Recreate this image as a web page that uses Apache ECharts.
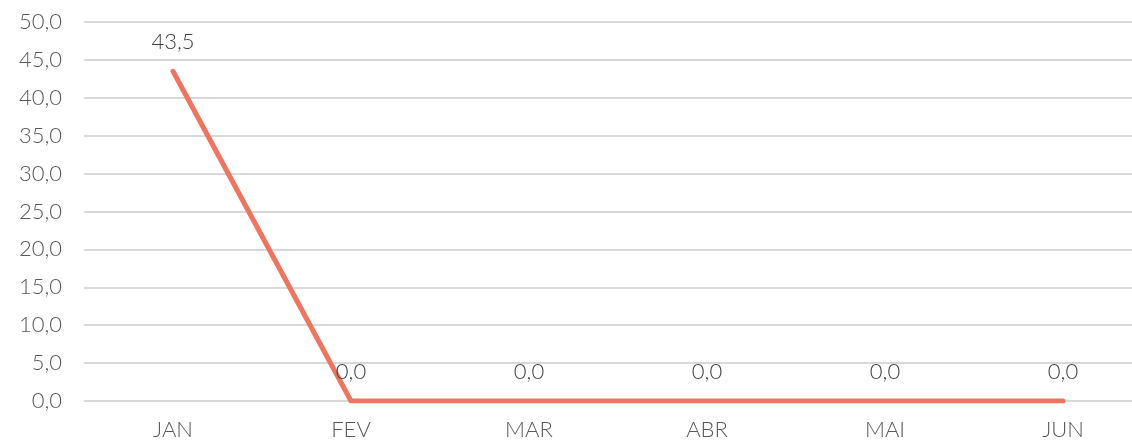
<!DOCTYPE html>
<html>
<head>
<meta charset="utf-8">
<script src="https://cdn.jsdelivr.net/npm/echarts@6/dist/echarts.min.js"></script>
<style>
html,body{margin:0;padding:0;background:#fff;overflow:hidden;width:1132px;height:442px;}
#chart{width:1152px;height:442px;}
</style>
</head>
<body>
<div id="chart"></div>
<script>
const categories = ['JAN', 'FEV', 'MAR', 'ABR', 'MAI', 'JUN'];
const values = [43.5, 0.0, 0.0, 0.0, 0.0, 0.0];
const yTicks = [0, 5, 10, 15, 20, 25, 30, 35, 40, 45, 50];

const fmt = v => v.toFixed(1).replace('.', ',');
const FONT = 'Lato';

const chart = echarts.init(document.getElementById('chart'));
chart.setOption({
  animation: false,
  backgroundColor: '#ffffff',
  grid: { left: 84, top: 22, bottom: 41, right: 0, containLabel: false },
  xAxis: {
    type: 'category',
    data: categories,
    boundaryGap: true,
    axisLine: { show: false },
    axisTick: { show: false },
    axisLabel: { color: '#595959', fontSize: 22, fontWeight: 300, fontFamily: FONT, margin: 18 }
  },
  yAxis: {
    type: 'value',
    min: yTicks[0],
    max: yTicks[yTicks.length - 1],
    interval: 5,
    axisLine: { show: false },
    axisTick: { show: false },
    splitLine: { lineStyle: { color: '#d9d9d9', width: 2 } },
    axisLabel: { color: '#595959', fontSize: 22, fontWeight: 300, fontFamily: FONT, margin: 22, formatter: v => fmt(v) }
  },
  series: [{
    type: 'line',
    data: values,
    symbol: 'circle',
    symbolSize: 0.1,
    showSymbol: true,
    itemStyle: { color: '#EE7560' },
    lineStyle: { color: '#EE7560', width: 5, cap: 'round', join: 'round' },
    label: {
      show: true,
      position: 'top',
      distance: 18,
      color: '#404040',
      fontSize: 22,
      fontWeight: 300,
      fontFamily: FONT,
      formatter: p => fmt(p.value)
    },
    labelLayout: { hideOverlap: false }
  }]
});
</script>
</body>
</html>
